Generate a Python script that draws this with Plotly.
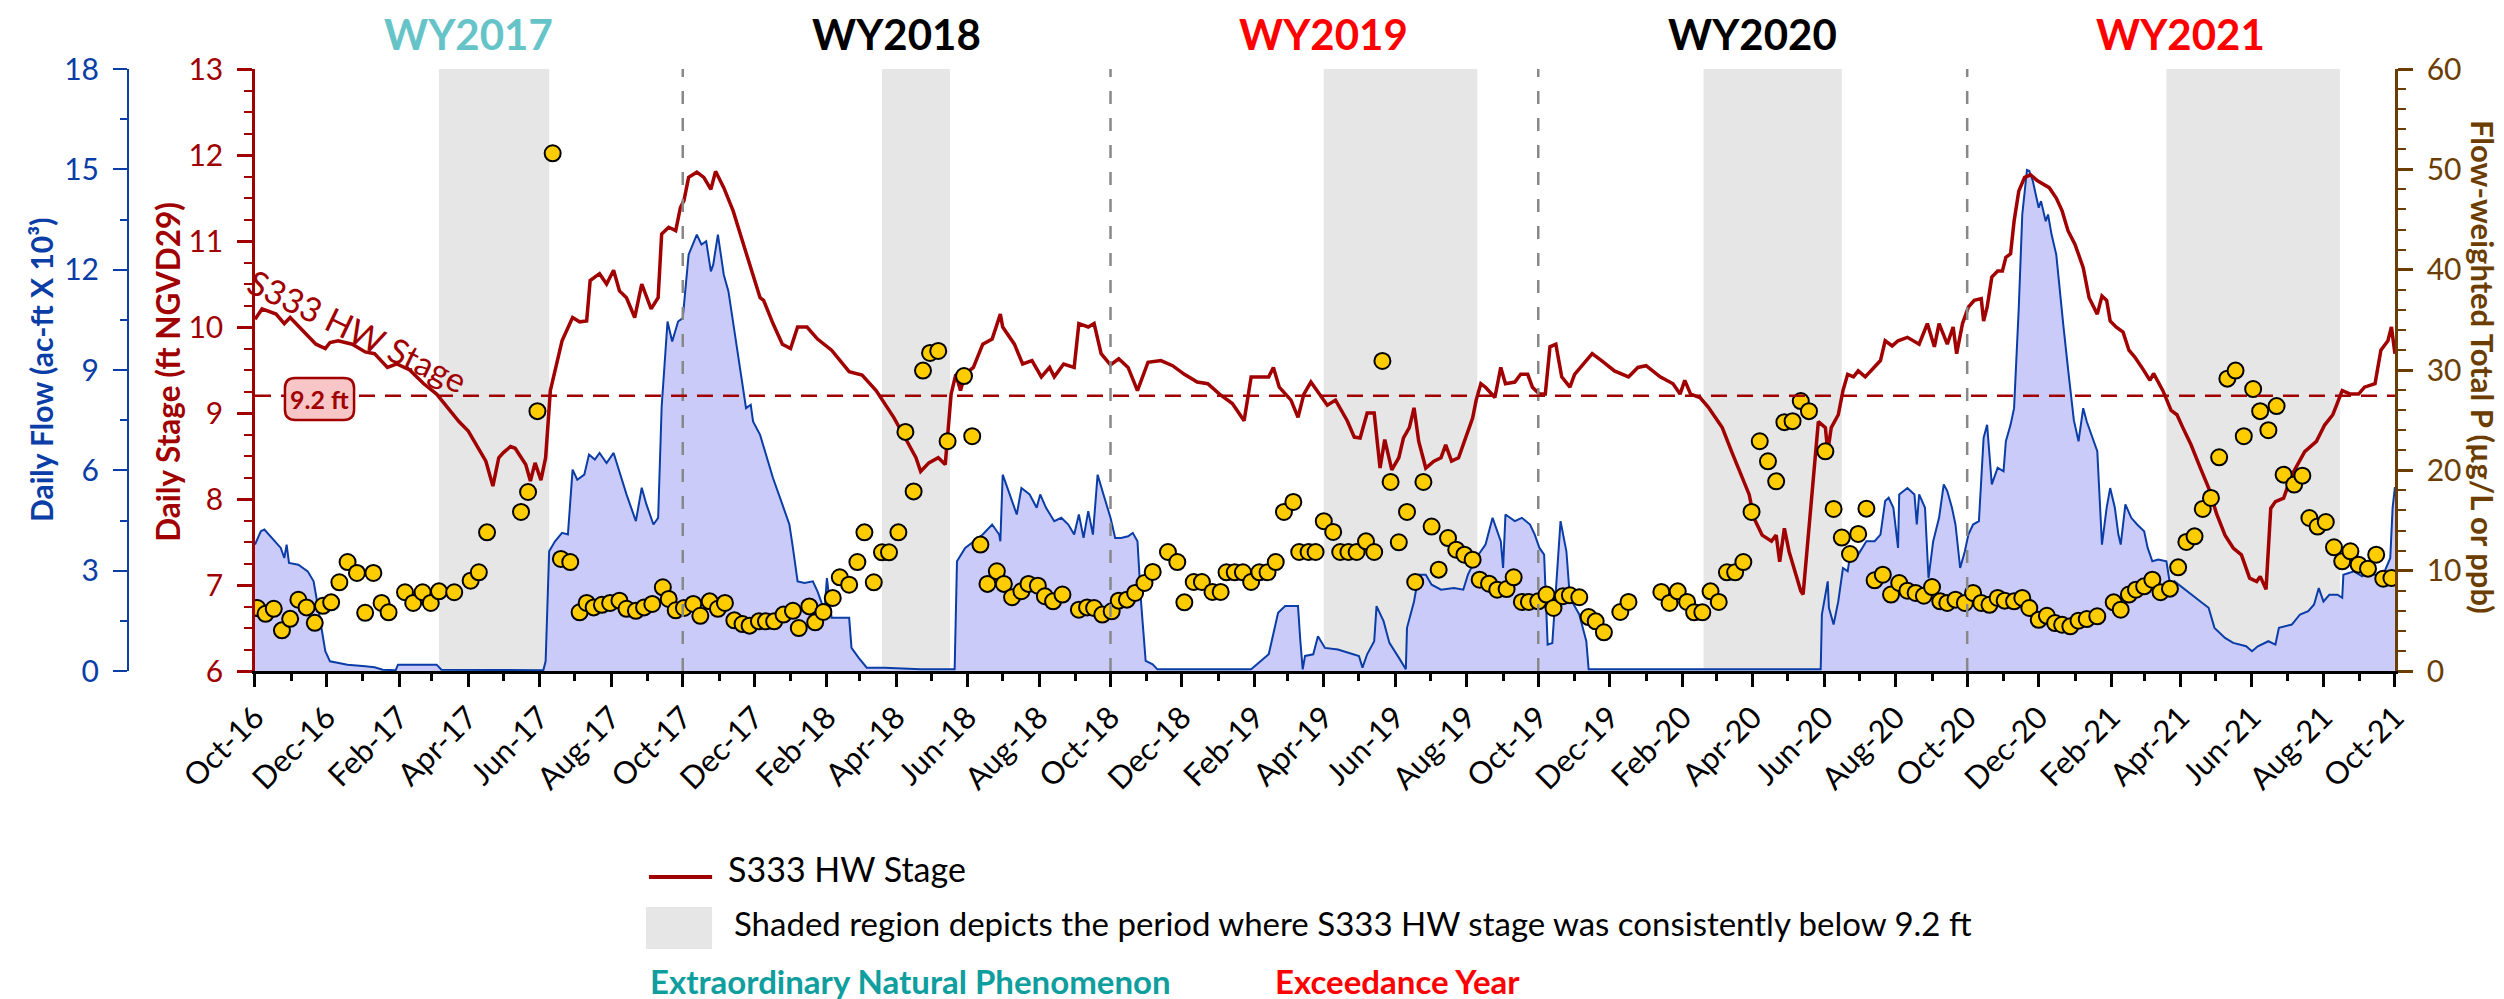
import pandas as pd
import plotly.graph_objects as go

BASE = pd.Timestamp("2016-10-01")

# ---- data (days since 2016-10-01) ----
stage_day = [0,6,18,25,30,41,52,60,64,71,83,94,102,113,121,132,144,155,163,174,182,189,197,203,208,212,218,222,227,231,235,239,244,248,251,252,262,267,271,277,283,286,294,300,306,311,317,324,330,338,344,347,353,359,363,366,370,377,383,389,393,400,408,415,423,431,434,442,450,457,463,471,480,492,507,518,530,545,556,564,568,575,583,589,593,594,598,602,606,613,621,629,636,638,648,655,663,671,678,682,690,699,703,711,716,722,730,737,745,753,762,773,783,793,804,813,823,834,844,850,865,869,874,884,890,895,901,909,915,922,932,938,943,949,955,960,964,970,976,980,985,989,993,999,1006,1012,1016,1021,1027,1033,1039,1042,1046,1050,1058,1063,1067,1075,1080,1086,1090,1096,1101,1105,1110,1115,1122,1126,1134,1141,1149,1160,1172,1180,1187,1199,1210,1216,1220,1225,1233,1240,1248,1252,1260,1267,1275,1279,1286,1294,1298,1301,1305,1309,1315,1319,1321,1326,1330,1334,1340,1342,1345,1351,1355,1359,1364,1368,1374,1381,1387,1391,1397,1402,1410,1420,1427,1433,1437,1444,1449,1452,1457,1462,1467,1473,1475,1478,1482,1487,1491,1494,1498,1501,1505,1510,1515,1521,1526,1531,1537,1542,1547,1553,1560,1565,1572,1576,1580,1583,1588,1594,1599,1604,1610,1617,1620,1628,1635,1640,1645,1652,1660,1667,1674,1681,1688,1695,1702,1708,1711,1716,1720,1724,1731,1738,1749,1759,1766,1773,1781,1788,1795,1800,1809,1814,1820,1823,1826]
stage_ft = [10.09,10.21,10.15,10.04,10.11,9.96,9.80,9.75,9.82,9.84,9.80,9.71,9.69,9.53,9.57,9.50,9.34,9.22,9.08,8.90,8.79,8.63,8.44,8.15,8.48,8.54,8.61,8.59,8.48,8.40,8.21,8.42,8.22,8.48,9.06,9.26,9.84,10.0,10.11,10.06,10.07,10.54,10.62,10.5,10.66,10.42,10.34,10.11,10.5,10.21,10.34,11.08,11.16,11.12,11.39,11.47,11.74,11.80,11.74,11.60,11.81,11.62,11.35,11.04,10.69,10.34,10.31,10.04,9.80,9.75,10.0,10.0,9.86,9.73,9.48,9.44,9.26,8.95,8.68,8.48,8.32,8.42,8.48,8.40,9.06,9.22,9.45,9.26,9.45,9.53,9.80,9.86,10.15,10.0,9.80,9.57,9.61,9.42,9.53,9.42,9.57,9.53,10.04,10.0,10.04,9.69,9.56,9.63,9.53,9.26,9.59,9.61,9.55,9.45,9.36,9.34,9.22,9.11,8.91,9.42,9.42,9.53,9.30,9.15,8.95,9.22,9.36,9.20,9.09,9.15,8.91,8.72,8.71,9.0,9.0,8.36,8.69,8.34,8.48,8.71,8.83,9.06,8.67,8.36,8.44,8.48,8.63,8.44,8.48,8.71,8.94,9.15,9.34,9.30,9.18,9.53,9.34,9.36,9.45,9.45,9.30,9.22,9.22,9.77,9.80,9.42,9.30,9.45,9.57,9.69,9.61,9.49,9.42,9.53,9.55,9.42,9.34,9.22,9.38,9.22,9.18,9.07,8.91,8.83,8.55,8.32,8.05,7.78,7.58,7.51,7.58,7.27,7.66,7.39,7.12,6.93,6.89,7.70,8.28,8.90,8.83,8.55,8.83,8.98,9.26,9.45,9.42,9.49,9.42,9.53,9.61,9.84,9.78,9.84,9.88,9.80,10.04,9.77,10.04,9.80,10.0,9.69,10.04,10.23,10.31,10.33,10.07,10.23,10.58,10.65,10.65,10.81,10.85,11.23,11.58,11.74,11.77,11.70,11.66,11.62,11.50,11.35,11.12,10.96,10.69,10.34,10.15,10.36,10.31,10.07,10.0,9.94,9.73,9.65,9.53,9.38,9.46,9.26,9.03,8.98,8.83,8.63,8.36,8.13,7.82,7.58,7.43,7.35,7.08,7.04,7.10,6.95,7.89,7.97,8.01,8.28,8.55,8.67,8.86,8.98,9.26,9.22,9.22,9.30,9.34,9.73,9.84,10.0,9.69]

flow_day = [0,5,8,14,22,25,27,29,37,45,50,52,56,60,64,79,94,102,109,120,122,155,159,246,248,251,256,262,267,271,275,281,285,290,294,300,306,311,317,325,330,334,340,344,347,352,356,361,365,370,377,381,385,389,391,395,400,404,412,419,423,425,431,435,442,450,456,459,463,469,476,480,486,488,492,507,509,515,522,537,568,597,599,606,614,621,629,635,636,638,644,650,654,661,667,670,675,682,688,694,699,703,707,711,715,719,724,730,734,739,745,749,753,756,760,766,770,850,865,873,879,890,892,894,896,903,907,913,924,936,942,945,949,955,957,963,968,976,982,983,989,993,999,1004,1012,1023,1031,1035,1042,1050,1056,1063,1065,1067,1075,1081,1088,1092,1096,1100,1103,1107,1111,1114,1119,1122,1130,1136,1138,1336,1337,1342,1343,1347,1351,1355,1359,1362,1368,1375,1382,1387,1391,1394,1398,1402,1403,1410,1416,1418,1420,1425,1428,1432,1437,1441,1444,1448,1451,1455,1459,1462,1466,1471,1475,1478,1482,1487,1492,1494,1498,1501,1505,1508,1512,1514,1517,1522,1524,1528,1530,1533,1537,1540,1543,1547,1552,1556,1560,1563,1569,1572,1574,1576,1580,1583,1587,1590,1592,1596,1601,1606,1612,1615,1619,1624,1631,1635,1638,1645,1652,1660,1667,1672,1681,1688,1699,1704,1709,1718,1724,1727,1738,1745,1752,1757,1761,1765,1770,1777,1781,1782,1791,1798,1802,1809,1816,1822,1824,1826]
flow_kaf = [3.78,4.18,4.23,3.98,3.68,3.38,3.78,3.23,3.18,2.98,2.68,2.28,1.39,0.59,0.29,0.19,0.14,0.11,0.04,0.02,0.19,0.19,0.04,0.02,0.29,3.58,3.88,4.13,4.08,6.02,5.72,5.87,6.47,6.32,6.52,6.22,6.52,5.97,5.28,4.48,5.48,4.98,4.38,4.58,7.9,10.45,9.85,10.45,10.55,12.45,13.05,12.75,12.85,11.95,12.15,13.05,11.85,11.35,9.45,7.86,7.96,7.46,7.06,6.6,5.77,4.98,4.38,3.68,2.68,2.63,2.68,2.38,1.79,2.78,1.59,1.59,0.69,0.40,0.10,0.10,0.05,0.05,3.28,3.68,3.88,4.08,4.38,4.08,3.88,5.87,5.28,4.68,5.47,5.28,4.88,5.28,4.88,4.48,4.58,4.38,4.08,4.68,3.98,4.78,4.08,5.87,5.28,4.58,3.98,3.98,4.03,4.13,3.88,2.09,0.30,0.20,0.05,0.05,0.50,1.74,1.94,1.94,0.89,0.05,0.45,0.50,1.04,0.69,0.64,0.50,0.45,0.10,0.50,0.89,1.94,1.49,0.84,0.40,0.05,1.29,2.08,2.88,2.88,2.58,2.43,2.48,2.43,2.88,3.38,3.78,4.58,3.88,3.08,4.68,4.48,4.58,4.38,4.08,3.68,3.48,0.79,0.84,2.98,4.48,3.58,2.19,1.69,0.89,0.05,0.05,1.69,2.68,1.89,1.39,2.08,3.08,2.98,3.68,3.48,3.88,3.88,4.08,5.08,5.18,4.88,3.68,5.28,5.47,5.28,4.38,5.28,4.88,2.78,3.88,4.58,5.58,5.38,4.88,4.38,3.08,3.58,4.08,4.38,4.48,6.97,7.36,5.58,6.08,5.97,6.87,7.36,7.86,10.85,13.65,14.98,14.95,14.65,13.85,14.05,13.45,13.65,13.05,12.45,11.35,10.35,9.05,7.5,6.87,7.86,7.46,6.87,6.57,5.18,3.78,4.88,5.47,4.88,4.08,3.78,4.98,4.58,4.38,4.18,3.68,3.28,3.33,3.28,2.38,2.68,2.48,2.28,2.08,1.89,1.29,0.99,0.84,0.74,0.59,0.74,0.89,0.79,1.29,1.39,1.69,1.79,1.99,2.48,2.08,2.28,2.28,2.19,2.88,2.98,2.83,2.93,2.88,2.88,3.38,4.88,5.5]

tp_day = [2,9,16,23,30,37,44,51,58,65,72,79,87,94,101,108,114,128,135,143,150,157,170,184,191,198,227,233,241,254,261,269,277,283,289,296,303,311,317,325,332,339,348,353,359,366,374,380,388,395,401,409,416,422,430,436,443,451,459,464,473,478,485,493,499,507,514,520,528,535,541,549,555,562,570,576,583,591,605,612,619,625,633,639,646,654,660,668,674,681,689,703,710,716,723,731,737,744,751,759,766,779,787,793,801,808,817,824,829,836,843,850,857,864,871,878,886,891,899,905,912,920,926,933,940,948,955,962,969,976,983,990,997,1004,1010,1018,1025,1032,1039,1045,1053,1060,1068,1074,1081,1087,1095,1102,1108,1116,1122,1130,1138,1144,1151,1165,1172,1200,1207,1214,1222,1228,1235,1242,1249,1256,1263,1270,1277,1284,1291,1298,1305,1312,1319,1326,1340,1347,1354,1361,1368,1375,1382,1389,1396,1403,1410,1417,1424,1431,1438,1444,1451,1459,1466,1473,1480,1487,1493,1501,1508,1514,1522,1529,1536,1542,1549,1556,1563,1572,1586,1592,1599,1605,1612,1619,1626,1634,1641,1648,1655,1662,1669,1676,1683,1690,1697,1705,1711,1718,1725,1731,1740,1747,1753,1760,1767,1774,1781,1788,1795,1803,1810,1816,1823]
tp_ppb = [6.28,5.7,6.2,4.05,5.2,7.1,6.34,4.8,6.5,6.84,8.84,10.86,9.77,5.8,9.77,6.78,5.85,7.85,6.78,7.85,6.78,7.94,7.85,9.0,9.84,13.82,15.85,17.84,25.9,51.6,11.17,10.86,5.85,6.78,6.34,6.6,6.78,7.01,6.2,6.0,6.34,6.68,8.34,7.18,6.05,6.28,6.68,5.5,6.94,6.2,6.78,5.05,4.68,4.52,4.95,4.95,4.95,5.62,6.0,4.28,6.44,4.85,5.88,7.28,9.34,8.6,10.86,13.82,8.84,11.83,11.83,13.82,23.83,17.9,29.94,31.7,31.9,22.9,29.4,23.4,12.6,8.68,9.94,8.68,7.35,7.95,8.68,8.5,7.45,6.94,7.62,6.11,6.34,6.28,5.62,5.95,7.01,7.11,7.78,8.77,9.87,11.86,10.86,6.84,8.87,8.87,7.88,7.88,9.84,9.84,9.84,8.87,9.84,9.84,10.86,15.85,16.85,11.86,11.86,11.86,14.93,13.86,11.86,11.86,11.86,12.92,11.86,30.9,18.84,12.83,15.85,8.87,18.84,14.4,10.1,13.25,12.09,11.59,11.09,9.1,8.7,8.1,8.17,9.34,6.88,6.88,6.94,7.62,6.28,7.45,7.55,7.35,5.38,4.95,3.86,5.88,6.88,7.88,6.78,7.94,6.88,5.85,5.85,7.94,6.88,9.84,9.84,10.86,15.85,22.9,20.9,18.9,24.8,24.9,26.9,25.9,21.9,16.15,13.3,11.66,13.66,16.18,9.04,9.6,7.62,8.77,8.0,7.78,7.5,8.37,6.94,6.78,7.11,6.78,7.78,6.78,6.6,7.28,7.01,6.94,7.28,6.28,5.1,5.5,4.78,4.61,4.45,5.01,5.18,5.45,6.84,6.11,7.62,8.1,8.44,9.1,7.85,8.21,10.33,12.86,13.42,16.15,17.25,21.3,29.14,29.94,23.4,28.1,25.9,24.0,26.4,19.57,18.58,19.47,15.25,14.4,14.85,12.33,10.93,11.93,10.6,10.2,11.59,9.2,9.27]

shade_start = ["2017-03-07", "2018-03-20", "2019-04-01", "2020-02-19", "2021-03-20"]
shade_end = ["2017-06-09", "2018-05-17", "2019-08-10", "2020-06-16", "2021-08-15"]
wy_bounds = ["2017-10-01", "2018-10-01", "2019-10-01", "2020-10-01"]
wy_labels = ["WY2017", "WY2018", "WY2019", "WY2020", "WY2021"]
wy_centers = ["2017-04-01", "2018-04-01", "2019-04-01", "2020-04-01", "2021-04-01"]
wy_colors = ["#66C4C9", "#000000", "#FF0000", "#000000", "#FF0000"]
threshold_ft = 9.2


def to_dates(days):
    return [BASE + pd.Timedelta(days=d) for d in days]


FONT = "Lato"
C_STAGE = "#A00000"
C_FLOW = "#0A3DA6"
C_TP = "#6B3D00"

fig = go.Figure()
fig.add_trace(go.Scatter(x=to_dates(flow_day), y=flow_kaf, yaxis="y", mode="lines",
                         fill="tozeroy", fillcolor="#CBCBFA",
                         line=dict(color=C_FLOW, width=2), showlegend=False))
fig.add_trace(go.Scatter(x=to_dates(stage_day), y=stage_ft, yaxis="y2", mode="lines",
                         line=dict(color=C_STAGE, width=3.5), showlegend=False))
fig.add_trace(go.Scatter(x=to_dates(tp_day), y=tp_ppb, yaxis="y3", mode="markers",
                         marker=dict(size=16, color="#FFCC00", line=dict(color="black", width=2)),
                         showlegend=False))

shapes = []
for s, e in zip(shade_start, shade_end):
    shapes.append(dict(type="rect", xref="x", yref="paper", x0=s, x1=e, y0=0, y1=1,
                       fillcolor="#E6E6E6", line=dict(width=0), layer="below"))
for b in wy_bounds:
    shapes.append(dict(type="line", xref="x", yref="paper", x0=b, x1=b, y0=0, y1=1,
                       line=dict(color="#888888", width=2.5, dash="13px,14px"), layer="above"))

XD0, XD1 = 0.0638, 0.9926
shapes.append(dict(type="line", xref="paper", yref="y2", x0=XD0, x1=XD1,
                   y0=threshold_ft, y1=threshold_ft,
                   line=dict(color=C_STAGE, width=2.5, dash="16px,10px"), layer="above"))

# rounded label box for threshold
x0, x1, yb, yt = 0.0768, 0.1068, 0.4169, 0.4867
rx, ry = 0.0045, 0.0170
path = (f"M {x0+rx},{yt} L {x1-rx},{yt} Q {x1},{yt} {x1},{yt-ry} L {x1},{yb+ry} "
        f"Q {x1},{yb} {x1-rx},{yb} L {x0+rx},{yb} Q {x0},{yb} {x0},{yb+ry} "
        f"L {x0},{yt-ry} Q {x0},{yt} {x0+rx},{yt} Z")
shapes.append(dict(type="path", xref="paper", yref="paper", path=path,
                   fillcolor="#F8C6C6", line=dict(color=C_STAGE, width=2.5), layer="above"))

# legend shapes
shapes.append(dict(type="line", xref="paper", yref="paper", x0=0.2348, x1=0.2622,
                   y0=-0.342, y1=-0.342, line=dict(color=C_STAGE, width=4)))
shapes.append(dict(type="rect", xref="paper", yref="paper", x0=0.2335, x1=0.2622,
                   y0=-0.4618, y1=-0.392, fillcolor="#E6E6E6", line=dict(width=0)))


def note(text, x, y, size, color, xref="paper", xanchor="center", angle=0):
    return dict(text=text, x=x, y=y, xref=xref, yref="paper", showarrow=False,
                xanchor=xanchor, yanchor="middle", textangle=angle,
                font=dict(family=FONT, size=size, color=color))


ann = []
for lab, c, col in zip(wy_labels, wy_centers, wy_colors):
    ann.append(note(f"<b>{lab}</b>", c, 1.058, 42, col, xref="x"))
ann.append(note(f"<b>{threshold_ft} ft</b>", (x0 + x1) / 2, (yb + yt) / 2, 25, C_STAGE))
ann.append(note("S333 HW Stage", 0.1085, 0.5664, 34, C_STAGE, angle=25.7))
ann.append(note("<b>Daily Flow (ac-ft X 10³)</b>", (33 - 100) / 2304, 0.50, 30, C_FLOW, angle=-90))
ann.append(note("<b>Daily Stage (ft NGVD29)</b>", (160 - 100) / 2304, 0.497, 31.5, C_STAGE, angle=-90))
ann.append(note("<b>Flow-weighted Total P (µg/L or ppb)</b>", (2475 - 100) / 2304, 0.505, 31,
                C_TP, angle=90))
ann.append(note("S333 HW Stage", 0.2682, -0.3289, 34, "black", xanchor="left"))
ann.append(note("Shaded region depicts the period where S333 HW stage was consistently below 9.2 ft",
                0.2708, -0.4186, 33, "black", xanchor="left"))
ann.append(note("<b>Extraordinary Natural Phenomenon</b>", 0.2344, -0.515, 33, "#0E9E9E",
                xanchor="left"))
ann.append(note("<b>Exceedance Year</b>", 0.5056, -0.515, 33, "#FF0000", xanchor="left"))

tickfont = lambda c: dict(family=FONT, size=30, color=c)

fig.update_layout(
    width=2504, height=999,
    margin=dict(l=100, r=100, t=61, b=336),
    paper_bgcolor="white", plot_bgcolor="white",
    font=dict(family=FONT),
    showlegend=False,
    shapes=shapes, annotations=ann,
    xaxis=dict(type="date", domain=[XD0, XD1], range=["2016-10-01", "2021-10-01"],
               anchor="y", showline=True, linecolor="black", linewidth=3,
               ticks="outside", ticklen=13, tickwidth=2.5, tickcolor="black",
               tickformat="%b-%y", dtick="M2", tick0="2016-10-01", tickangle=-45,
               tickfont=dict(family=FONT, size=31, color="black"),
               minor=dict(dtick="M1", tick0="2016-10-01", ticks="outside", ticklen=7,
                          tickwidth=2.5, tickcolor="black"),
               showgrid=False, zeroline=False, automargin=False),
    yaxis=dict(range=[0, 18], dtick=3, anchor="free", position=0.00868, side="left",
               showline=True, linecolor=C_FLOW, linewidth=2, ticks="outside", ticklen=14,
               tickwidth=2, tickcolor=C_FLOW, tickfont=tickfont(C_FLOW),
               minor=dict(dtick=1.5, ticks="outside", ticklen=7, tickwidth=2, tickcolor=C_FLOW),
               showgrid=False, zeroline=False, automargin=False, ticklabelstandoff=8),
    yaxis2=dict(range=[6, 13], dtick=1, overlaying="y", anchor="x", side="left",
                showline=True, linecolor=C_STAGE, linewidth=2.5, ticks="outside", ticklen=15,
                tickwidth=2.5, tickcolor=C_STAGE, tickfont=tickfont(C_STAGE),
                minor=dict(dtick=0.25, ticks="outside", ticklen=8, tickwidth=2, tickcolor=C_STAGE),
                showgrid=False, zeroline=False, automargin=False, ticklabelstandoff=8),
    yaxis3=dict(range=[0, 60], dtick=10, overlaying="y", anchor="x", side="right",
                showline=True, linecolor=C_TP, linewidth=2.5, ticks="outside", ticklen=15,
                tickwidth=2.5, tickcolor=C_TP, tickfont=tickfont(C_TP),
                minor=dict(dtick=2, ticks="outside", ticklen=8, tickwidth=2, tickcolor=C_TP),
                showgrid=False, zeroline=False, automargin=False, ticklabelstandoff=8),
)

fig.write_html("out.html")
